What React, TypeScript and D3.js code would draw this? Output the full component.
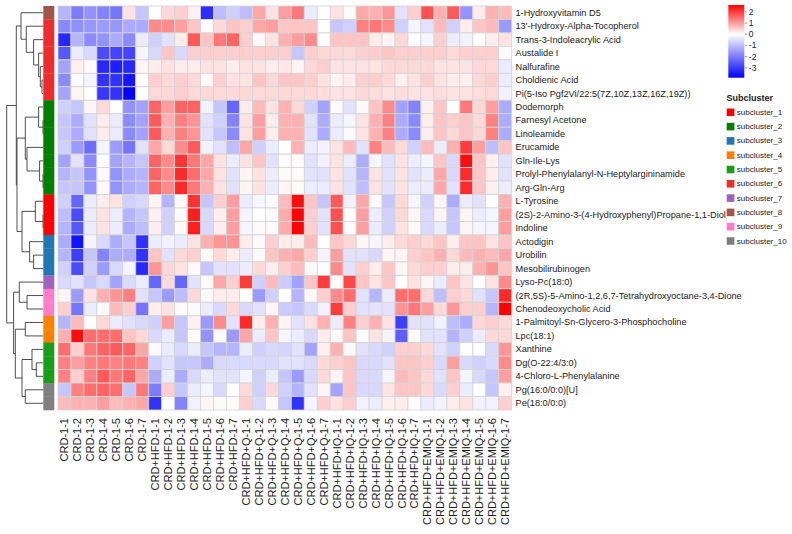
import React from "react";
import * as d3 from "d3";

// Sample groups and replicate suffixes (column labels)
const sampleGroups = ["CRD", "CRD+HFD", "CRD+HFD+Q", "CRD+HFD+IQ", "CRD+HFD+EMIQ"];
const replicates = ["1-1", "1-2", "1-3", "1-4", "1-5", "1-6", "1-7"];
const samples = sampleGroups.flatMap((g) => replicates.map((r) => `${g}-${r}`));

// Metabolites in dendrogram order (row labels)
const metabolites = [
  "1-Hydroxyvitamin D5",
  "13'-Hydroxy-Alpha-Tocopherol",
  "Trans-3-Indoleacrylic Acid",
  "Austalide I",
  "Nalfurafine",
  "Choldienic Acid",
  "Pi(5-Iso Pgf2Vi/22:5(7Z,10Z,13Z,16Z,19Z))",
  "Dodemorph",
  "Farnesyl Acetone",
  "Linoleamide",
  "Erucamide",
  "Gln-Ile-Lys",
  "Prolyl-Phenylalanyl-N-Heptylargininamide",
  "Arg-Gln-Arg",
  "L-Tyrosine",
  "(2S)-2-Amino-3-(4-Hydroxyphenyl)Propane-1,1-Diol",
  "Indoline",
  "Actodigin",
  "Urobilin",
  "Mesobilirubinogen",
  "Lyso-Pc(18:0)",
  "(2R,5S)-5-Amino-1,2,6,7-Tetrahydroxyoctane-3,4-Dione",
  "Chenodeoxycholic Acid",
  "1-Palmitoyl-Sn-Glycero-3-Phosphocholine",
  "Lpc(18:1)",
  "Xanthine",
  "Dg(O-22:4/3:0)",
  "4-Chloro-L-Phenylalanine",
  "Pg(16:0/0:0)[U]",
  "Pe(18:0/0:0)",
];

// Subcluster membership of every row (1-based)
const rowSubcluster = [8, 6, 6, 6, 6, 6, 6, 2, 2, 2, 2, 2, 2, 2, 1, 1, 1, 3, 3, 3, 7, 9, 9, 4, 4, 5, 5, 5, 10, 10];

const subclusterNames = [
  "subcluster_1", "subcluster_2", "subcluster_3", "subcluster_4", "subcluster_5",
  "subcluster_6", "subcluster_7", "subcluster_8", "subcluster_9", "subcluster_10",
];
const subclusterColors = [
  "#FF0000", "#007F00", "#1F78B4", "#FF7F00", "#17A017",
  "#EE2C2C", "#9F63BF", "#A0564A", "#FF7DC8", "#808080",
];

// Row-scaled abundance (z-score), one array per metabolite, 35 samples each
const zScores: number[][] = [
  [-1.13, -2.0, -1.65, -1.89, -2.12, 0.3, -0.86, 0, 0.4, 0.5, 0.15, -3.2, -1.0, -0.72, -1.0, 0.9, 0.3, 1.0, 1.4, -0.29, 0, 0.3, 0.05, 0.9, 0.8, 1.1, -0.44, 0.5, 1.8, 0.8, 1.7, -1.65, 0.2, 0.8, 0.7],
  [-1.8, -1.7, -1.6, -1.5, -1.6, -1.3, -1.3, 1.2, 1.2, 1.0, 0.6, 0, 0.4, 0.6, 0.5, 0.9, 1.0, 0.6, 0.6, 0.6, 0, -0.86, -0.72, 1.3, 1.4, 1.2, -0.72, -0.15, -0.44, 0.7, -0.72, 0.2, 0.6, 0.7, -1.52],
  [-3.3, -1.13, -1.77, -1.65, -1.27, -1.77, -0.29, -0.72, -0.44, 0.2, 1.7, 0.6, 1.4, 1.6, 0.5, 0.05, 0.3, 0.8, 1.0, 1.2, 0, 0.6, 0.6, 0.6, 0.2, 0.1, 0.4, 0, -0.15, 0.5, -0.29, -0.22, 0, 0.2, 0.3],
  [-2.56, -0.29, -0.58, -2.76, -2.85, -2.85, -0.15, -0.58, 0.6, -0.58, 0.5, 0.5, 0.5, 0.5, 0.5, 0.5, 0.5, 0.5, -0.86, 0.5, 0.4, 0.4, 0.4, 0.5, 0.5, 0.6, 0.5, 0.5, 0.5, 0.5, 0.4, 0.5, 0.5, 0.5, -0.07],
  [-1.4, 0.15, 0.05, -3.28, -3.43, -3.28, 0.1, 0.2, 0.3, 0.2, 0.2, 0.3, 0.3, 0.2, 0.3, 0.3, 0.2, 0.25, 0.1, 0.4, 0.5, 0.3, 0.3, 0.3, 0.3, 0.4, 0.4, 0.4, 0.4, 0.3, 0.3, 0.3, 0.4, 0.4, -0.29],
  [-1.77, -0.07, -0.15, -3.12, -3.12, -3.55, 0, 0.5, 0.4, 0.5, 0.4, 0.05, 0.5, 0.3, 0.3, 0.6, 0.4, 0.6, 0.6, 0.5, 0.3, 0.1, 0.2, 0.5, 0.5, 0.4, 0.15, 0.3, 0.5, 0.3, 0.2, 0.15, 0.4, 0.5, -0.29],
  [-1.4, 0.1, 0, -3.04, -3.12, -3.8, 0, 0.4, 0.4, 0.5, 0.4, 0.4, 0.4, 0.4, 0.4, 0.4, 0.4, 0.4, 0.4, 0.4, 0.35, 0.3, 0.3, 0.4, 0.35, 0.3, 0.35, 0.3, 0.3, 0.35, 0.3, 0.3, 0.35, 0.4, -0.22],
  [-0.72, -0.86, 0.1, 0.4, 0, -1.65, -1.4, 1.6, 1.0, 1.6, 1.6, -0.22, -0.86, -2.34, 0.2, 0.7, 0.3, 0.8, 0.4, -0.72, -1.4, 0.05, -0.44, 0.05, 0.6, 1.2, -1.4, -1.89, 0.15, 0.6, 0, 1.4, 0.4, 1.0, -1.27],
  [-0.86, -1.27, -0.44, 0.2, -0.29, -1.77, -1.4, 1.7, 0.8, 1.3, 1.1, -0.44, -0.72, -1.89, 0.3, 1.0, 0.2, 0.8, 0.8, -0.44, -1.27, -0.29, -0.15, 0.3, 0.8, 1.3, -1.27, -1.77, 0.2, 0.6, 0.5, 0.6, 0.4, 1.3, -1.27],
  [-0.86, -1.27, -0.44, 0.2, -0.29, -1.77, -1.4, 1.7, 0.8, 1.3, 1.1, -0.44, -0.86, -1.77, 0.3, 1.0, 0.2, 0.8, 0.8, -0.44, -1.27, -0.29, -0.07, 0.3, 0.8, 1.3, -1.27, -1.77, 0.2, 0.6, 0.4, 0.6, 0.4, 1.3, -1.27],
  [-0.72, -1.52, -2.23, -0.15, -1.52, -2.12, -0.44, 0.9, 0.4, 1.2, 1.7, -0.22, -0.44, -1.0, 0.9, -0.72, -0.29, 0, 0.8, -0.29, -0.22, 0.3, 0.7, -0.44, 1.3, 0.7, 0.4, -0.72, 0.7, -0.29, 0.8, 2.0, 1.0, -1.0, 0.6],
  [-1.4, -0.44, -1.77, 0, -1.4, -1.13, -0.86, 1.6, 1.2, 2.1, 1.4, 0.9, 0.3, -0.29, 0.3, 0.6, -0.44, 0.05, 0.05, -0.44, -0.22, 0.3, -0.29, -1.27, -0.15, -0.44, 0.3, -0.29, -0.15, 0.6, -0.58, 2.5, 0.6, 0.15, -0.44],
  [-1.13, -0.86, -1.65, 0.05, -1.65, -1.27, -1.13, 1.6, 1.2, 2.2, 1.5, 0.9, 0.3, -0.44, 0.1, 0.3, -0.29, 0.05, 0.05, -0.44, -0.44, 0.3, -0.44, -1.13, 0.3, -0.44, 0.3, -0.44, -0.29, 0.9, -0.58, 2.2, 0.6, 0.2, -0.44],
  [-0.86, -0.86, -1.65, 0.05, -1.65, -1.27, -1.13, 1.6, 1.2, 2.2, 1.4, 0.8, 0.3, -0.44, 0.1, 0.3, -0.29, 0.1, 0.05, -0.29, -0.29, 0.3, -0.44, -1.0, 0.3, -0.44, 0.3, -0.29, -0.29, 0.9, -0.44, 2.2, 0.6, 0.15, -0.29],
  [-0.72, -2.34, -0.29, 0.2, 0.3, -0.72, -0.58, 0.1, -1.13, 0.05, 2.1, -0.86, 0.5, 1.0, -0.29, -0.15, -0.07, 0.7, 2.5, 0.6, -0.86, 1.7, -0.22, 0.9, 0.05, -0.86, 0.4, -0.15, -0.72, 0.1, -1.27, -0.29, -0.44, 0, 0.8],
  [-1.0, -2.76, -0.29, 0.3, -0.29, -1.13, -0.86, 0.15, -0.72, 0.05, 2.3, -0.58, 0.2, 1.0, -0.15, 0, -0.07, 0.85, 2.6, 0.5, -0.44, 1.8, 0, 1.0, -0.29, -0.72, 0.4, 0.1, -0.58, 0.1, -0.86, 0.1, -0.29, -0.15, 1.0],
  [-1.13, -2.56, -0.29, 0.3, -0.29, -1.27, -1.0, 0.2, -0.72, 0.05, 2.3, -0.58, 0.2, 1.0, -0.15, 0.05, -0.07, 0.85, 2.6, 0.5, -0.44, 1.8, 0, 1.0, -0.29, -0.72, 0.3, 0.05, -0.58, -0.29, -0.86, 0.1, -0.15, -0.15, 1.0],
  [-1.27, -3.6, -0.15, -0.58, -1.27, -0.86, -3.12, -0.29, -0.22, -0.29, 0.3, 0.8, 1.1, 1.1, 0.2, 0.05, 0.5, 0.2, 0.2, 0.7, 0, 0.6, 0.4, 0.1, -0.15, 0.2, 0.4, 0.5, 0.4, 0.6, 0.2, 0.6, 0.6, 0.3, 0.6],
  [-1.13, -2.94, -0.86, -1.89, -1.27, -1.27, -3.12, 0.6, -0.44, 0.4, 0.5, 0.05, 0.4, 0.2, -0.29, 0.05, 0.6, 0.8, 0.9, 0.5, -0.15, 1.0, -0.44, -0.44, -0.58, 0.1, 0.1, 0.5, 0.6, 0.8, 0.4, 0.7, 0.8, 0.7, 0.9],
  [-0.72, -2.76, -0.72, -1.52, -0.58, -0.15, -3.28, 1.1, 0.4, 0.3, 0.05, -0.86, -0.44, -0.44, -0.29, 0.4, 0.2, 0.5, 0.7, 0.05, 0, 1.2, -0.44, 0.5, 0.2, 0.6, 0.1, 0.4, 0.5, 0.5, 0.2, 0.2, 0.8, 1.1, 0.6],
  [-0.58, -0.44, -0.86, -0.58, -1.4, -0.58, -0.29, -2.34, 0.4, -2.34, -0.44, 0.05, 0.9, 0.5, 2.0, -0.72, 0.7, -0.79, -1.4, 0.6, 2.0, 0.05, 1.9, 0.6, 0.3, 0.6, 0, 0.3, 0.1, -0.29, 0.6, 0.3, 0, 0.3, 1.2],
  [0.1, -1.52, 0.3, 0.8, 1.1, 1.3, -0.44, -0.86, -1.52, -1.0, 0.4, 0.05, 0.2, 0.2, 0, -1.52, -0.72, 0, -1.13, 0.05, 0.5, 1.2, 1.5, -0.44, -1.13, -0.29, 1.5, 1.5, 0.4, -1.0, 0.5, 0.4, -0.44, -0.86, 2.2],
  [0.5, -2.12, -0.29, 0.05, 0.7, 0.5, -2.12, 0.2, 0.3, 0.05, -0.07, -0.29, -0.58, 0.4, -0.58, -0.44, 0.1, -0.79, -0.86, -0.58, -0.22, 2.0, 0.5, -0.44, -0.44, -0.44, 1.1, 1.4, 1.0, 0.4, 1.1, 0.5, 0.5, -1.13, 2.6],
  [-1.13, 0.7, 0, 0.4, -0.29, -0.44, -0.58, -0.72, 1.0, -0.86, 0.15, -1.52, 1.2, -0.44, 2.2, 0.2, 0.8, 0.12, -0.44, 0.3, 0.8, -0.29, 1.3, 0.5, 0.8, 0.3, -2.94, -0.44, -0.44, -0.22, -1.0, -1.27, 0.4, 0.5, 0.4],
  [0.8, 2.5, 1.5, 1.5, 1.5, 0.6, 0.4, -0.58, -0.29, -0.86, 0, -1.65, 0.05, -1.52, 0.9, -0.29, 0.6, -0.15, -0.29, -0.58, 0.2, 0.05, 0.6, 0, 0.3, -0.15, -2.45, 0.05, -0.44, -0.44, -1.13, -0.72, -0.29, 0.4, 0.4],
  [1.5, 0.5, 1.4, 1.6, 1.7, 1.6, 0.9, 0.05, -0.29, -0.58, -0.29, -0.86, -1.13, -1.13, -0.29, -0.72, -0.58, -0.65, -0.44, -1.4, 0.15, 0.8, 0.05, -0.44, -0.58, -0.72, 0.5, 0.5, 0.4, -0.44, -0.72, 0, 0, -0.58, 1.1],
  [1.3, 1.0, 1.3, 1.4, 1.3, 1.4, 1.3, -0.72, -0.44, -0.86, -0.86, -1.27, -0.58, -0.58, -0.58, -0.58, -0.58, -0.44, -0.44, -0.58, 0.4, 0.5, 0.6, -0.58, -0.58, -0.44, 0.6, 0.6, 0.5, -0.58, 1.0, -0.58, -0.72, -0.58, 1.2],
  [1.3, 0.5, 1.3, 1.7, 1.4, 1.6, 0.9, -1.27, -0.29, -1.27, -0.58, -0.29, -0.44, -0.44, -0.15, -0.72, -0.29, -0.86, -1.52, -0.58, 0.4, 0.1, 0.6, -0.58, -0.58, -0.15, 0.7, 0.6, 0.4, -0.44, 0.6, -0.15, -0.58, -0.86, 1.0],
  [-0.86, 1.3, 1.5, 1.6, 1.5, -0.86, 1.4, -2.0, 0.5, -0.86, -0.29, -0.15, -0.58, 0, 0.4, -0.72, 0.4, -0.72, -1.13, -0.44, 0.1, -1.4, 0.6, -0.58, -0.58, 0.3, 0.6, 0.6, 0.4, -0.58, 0.5, -0.29, 0, -0.86, 0.15],
  [0.7, 0.8, 0.8, 1.0, 0.7, 0.8, 0.9, -3.12, 0, -1.89, -0.22, 0.1, 0.05, 0.05, 0.5, -0.58, 0.05, -0.86, -3.12, -0.15, 0.5, 0.3, 0.5, -0.22, -0.29, 0.15, 0.2, 0.02, -0.29, -0.22, 0.2, 0.3, -0.22, -0.22, 0.5],
];

// Row clustering: leaves are row indices, internal nodes are [left, right, mergeHeight]
type TreeNode = number | [TreeNode, TreeNode, number];
const rowTree: TreeNode = [
  [
    [0, [1, [2, [3, [4, [5, 6, 1.3], 3], 4.7], 9.7], 17], 22.3],
    [
      [[7, [8, 9, 0.3], 4.7], [10, [11, [12, 13, 0.3], 3.7], 16.3], 18],
      [[14, [15, 16, 0.3], 8], [17, [18, 19, 9.7], 13.7], 21.3],
      26.3,
    ],
    27,
  ],
  [
    [20, [21, 22, 16.3], 24],
    [[23, 24, 18], [[25, [26, 27, 7], 11.3], [28, 29, 18], 21.3], 28],
    29.7,
  ],
  36.6,
];

// Colour key range and ticks
const legendTicks = [2, 1, 0, -1, -2, -3];
const colorMin = -3.88;
const colorMax = 2.62;

const FONT = "'Liberation Sans', Arial, Helvetica, sans-serif";

export default function App() {
  const width = 792;
  const height = 534;

  const x = d3.scaleBand<string>().domain(samples).range([58, 511.7]).paddingInner(0).paddingOuter(0);
  const y = d3.scaleBand<string>().domain(metabolites).range([6, 410]).paddingInner(0).paddingOuter(0);
  const color = d3
    .scaleLinear<string>()
    .domain([colorMin, 0, colorMax])
    .range(["#0000FF", "#FFFFFF", "#FF0000"])
    .clamp(true);

  // Dendrogram: merge height -> x position
  const hx = d3.scaleLinear().domain([0, 36.6]).range([43.3, 6.7]);
  const paths: string[] = [];
  const walk = (node: TreeNode): { yy: number; h: number } => {
    if (typeof node === "number") {
      return { yy: (y(metabolites[node]) as number) + y.bandwidth() / 2, h: 0 };
    }
    const [a, b, h] = node;
    const ra = walk(a);
    const rb = walk(b);
    const nx = hx(h);
    paths.push(`M${hx(ra.h)},${ra.yy}H${nx}V${rb.yy}H${hx(rb.h)}`);
    return { yy: (ra.yy + rb.yy) / 2, h };
  };
  walk(rowTree);

  // Colour key geometry
  const keyX = 728.3;
  const keyW = 16;
  const keyY = d3.scaleLinear().domain([colorMax, colorMin]).range([5, 77.7]);
  const whiteOffset = colorMax / (colorMax - colorMin);

  const legendTop = 98;
  const itemY = d3.scaleLinear().domain([0, 1]).range([112.3, 126.6]);

  return (
    <svg
      width={width}
      height={height}
      style={{ position: "absolute", left: 0, top: 0, background: "#fff" }}
      fontFamily={FONT}
    >
      <defs>
        <linearGradient id="key" x1="0" y1="0" x2="0" y2="1">
          <stop offset="0" stopColor="#FF0000" />
          <stop offset={whiteOffset} stopColor="#FFFFFF" />
          <stop offset="1" stopColor="#0000FF" />
        </linearGradient>
      </defs>
      <rect x={0} y={0} width={width} height={height} fill="#fff" />

      {/* dendrogram */}
      <g fill="none" stroke="#3a3a3a" strokeWidth={0.9}>
        {paths.map((d, i) => (
          <path key={i} d={d} />
        ))}
      </g>

      {/* row annotation */}
      <g>
        {metabolites.map((m, i) => (
          <rect
            key={m}
            x={43.3}
            y={y(m) as number}
            width={11}
            height={y.bandwidth() + 0.3}
            fill={subclusterColors[rowSubcluster[i] - 1]}
          />
        ))}
      </g>

      {/* heatmap cells */}
      <g stroke="#d4d4d4" strokeWidth={0.8}>
        {zScores.map((row, i) =>
          row.map((v, j) => (
            <rect
              key={`${i}-${j}`}
              x={x(samples[j]) as number}
              y={y(metabolites[i]) as number}
              width={x.bandwidth()}
              height={y.bandwidth()}
              fill={color(v)}
            />
          ))
        )}
      </g>

      {/* row labels */}
      <g fontSize={9.2} fill="#1a1a1a">
        {metabolites.map((m) => (
          <text key={m} x={515.5} y={(y(m) as number) + y.bandwidth() / 2} dominantBaseline="central">
            {m}
          </text>
        ))}
      </g>

      {/* column labels */}
      <g fontSize={11} fill="#1a1a1a">
        {samples.map((s) => {
          const cx = (x(s) as number) + x.bandwidth() / 2;
          return (
            <text
              key={s}
              transform={`translate(${cx},418) rotate(-90)`}
              textAnchor="end"
              dominantBaseline="central"
            >
              {s}
            </text>
          );
        })}
      </g>

      {/* colour key */}
      <rect x={keyX} y={keyY(colorMax)} width={keyW} height={keyY(colorMin) - keyY(colorMax)} fill="url(#key)" />
      <g fontSize={8.5} fill="#1a1a1a">
        {legendTicks.map((t) => (
          <g key={t}>
            <line x1={keyX + keyW + 0.5} x2={keyX + keyW + 3} y1={keyY(t)} y2={keyY(t)} stroke="#555" strokeWidth={0.6} />
            <text x={keyX + keyW + 4.5} y={keyY(t)} dominantBaseline="central">
              {t}
            </text>
          </g>
        ))}
      </g>

      {/* subcluster legend */}
      <text x={726.5} y={legendTop} fontSize={9} fontWeight="bold" dominantBaseline="central" fill="#1a1a1a">
        Subcluster
      </text>
      <g fontSize={8} fill="#1a1a1a">
        {subclusterNames.map((n, i) => (
          <g key={n}>
            <rect x={726.7} y={itemY(i) - 3.8} width={7.7} height={7.6} fill={subclusterColors[i]} />
            <text x={736.8} y={itemY(i)} dominantBaseline="central">
              {n}
            </text>
          </g>
        ))}
      </g>
    </svg>
  );
}
